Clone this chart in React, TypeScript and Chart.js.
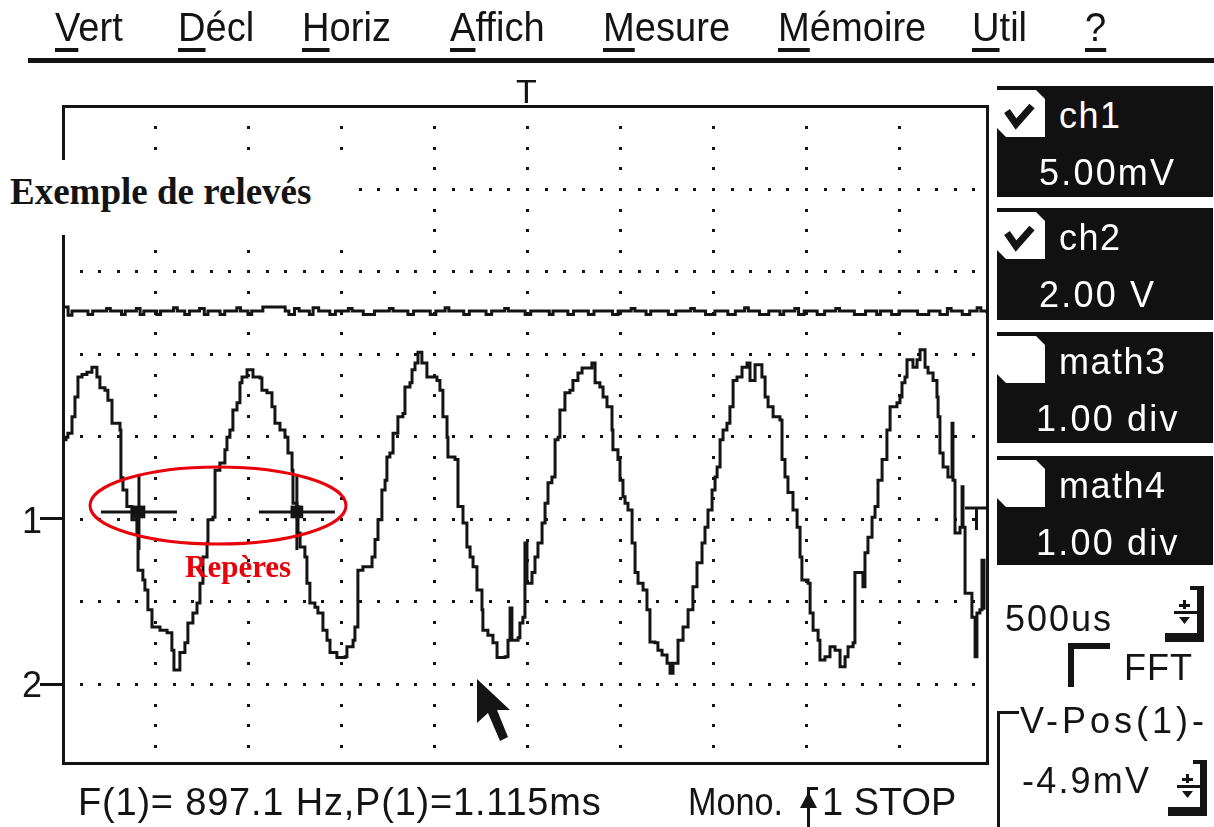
import React, { useEffect, useRef } from "react";
import { Chart, registerables } from "chart.js";

Chart.register(...registerables);

// ---------------- data ----------------
// time axis in ms (500 us / div, trigger "T" at 0), vertical axis in divisions
const timeTicksMs = [-2, -1.5, -1, -0.5, 0, 0.5, 1, 1.5, 2];
const divTicks = [-3, -2, -1, 0, 1, 2, 3];

const traceTimeMs = [
  -2.489, -2.478, -2.468, -2.446, -2.43, -2.414, -2.392, -2.366, -2.339, -2.312,
  -2.296, -2.269, -2.253, -2.231, -2.204, -2.188, -2.183, -2.172, -2.151, -2.124,
  -2.097, -2.091, -2.065, -2.054, -2.038, -2.016, -1.973, -1.935, -1.909, -1.898,
  -1.866, -1.839, -1.823, -1.796, -1.774, -1.758, -1.742, -1.72, -1.715, -1.688,
  -1.677, -1.651, -1.624, -1.613, -1.597, -1.581, -1.559, -1.543, -1.532, -1.505,
  -1.473, -1.435, -1.425, -1.398, -1.371, -1.355, -1.328, -1.301, -1.285, -1.263,
  -1.258, -1.237, -1.231, -1.22, -1.194, -1.183, -1.167, -1.14, -1.124, -1.097,
  -1.075, -1.059, -1.022, -0.978, -0.968, -0.935, -0.925, -0.909, -0.882, -0.833,
  -0.817, -0.801, -0.78, -0.763, -0.753, -0.737, -0.72, -0.694, -0.667, -0.656,
  -0.629, -0.618, -0.602, -0.586, -0.565, -0.538, -0.484, -0.468, -0.452, -0.43,
  -0.425, -0.387, -0.371, -0.344, -0.323, -0.306, -0.29, -0.269, -0.242, -0.237,
  -0.21, -0.183, -0.161, -0.118, -0.102, -0.091, -0.081, -0.048, -0.038, -0.022,
  -0.011, 0.0, 0.027, 0.043, 0.059, 0.081, 0.097, 0.113, 0.134, 0.151,
  0.167, 0.177, 0.204, 0.231, 0.247, 0.274, 0.296, 0.328, 0.349, 0.366,
  0.392, 0.409, 0.43, 0.457, 0.462, 0.489, 0.5, 0.516, 0.527, 0.543,
  0.565, 0.581, 0.597, 0.624, 0.645, 0.661, 0.688, 0.704, 0.726, 0.753,
  0.769, 0.785, 0.812, 0.839, 0.866, 0.892, 0.914, 0.941, 0.957, 0.973,
  0.995, 1.011, 1.022, 1.038, 1.054, 1.075, 1.091, 1.108, 1.129, 1.156,
  1.183, 1.199, 1.226, 1.263, 1.28, 1.296, 1.323, 1.36, 1.371, 1.387,
  1.403, 1.43, 1.452, 1.468, 1.478, 1.511, 1.522, 1.538, 1.565, 1.575,
  1.602, 1.629, 1.656, 1.683, 1.71, 1.726, 1.753, 1.763, 1.79, 1.806,
  1.817, 1.833, 1.855, 1.871, 1.887, 1.909, 1.935, 1.952, 1.989, 2.005,
  2.016, 2.032, 2.043, 2.075, 2.097, 2.113, 2.14, 2.156, 2.183, 2.204,
  2.21, 2.22, 2.237, 2.263, 2.285, 2.29, 2.301, 2.328, 2.339, 2.344,
  2.355, 2.392, 2.409, 2.419, 2.435, 2.446, 2.457,
];
const traceDiv = [
  -0.04, -0.01, 0.04, 0.24, 0.48, 0.72, 0.75, 0.78, 0.84, 0.72,
  0.59, 0.56, 0.44, 0.16, 0.16, 0.08, -0.5, -0.65, -0.85, -1.01,
  -1.17, -1.62, -1.74, -1.86, -2.1, -2.31, -2.35, -2.38, -2.59, -2.83,
  -2.62, -2.5, -2.26, -2.14, -2.02, -1.78, -1.46, -1.29, -1.01, -0.98,
  -0.41, -0.32, -0.16, -0.01, 0.08, 0.32, 0.41, 0.65, 0.72, 0.81,
  0.72, 0.71, 0.56, 0.53, 0.36, 0.16, 0.08, -0.01, -0.2, -0.41,
  -0.81, -0.85, -1.17, -1.34, -1.46, -1.78, -2.02, -2.07, -2.14, -2.35,
  -2.47, -2.62, -2.68, -2.67, -2.55, -2.47, -2.31, -1.62, -1.58, -1.46,
  -1.25, -1.01, -0.65, -0.53, -0.25, -0.2, 0.04, 0.24, 0.28, 0.6,
  0.65, 0.81, 0.89, 1.02, 0.89, 0.72, 0.68, 0.56, 0.24, -0.01,
  -0.25, -0.28, -0.85, -1.05, -1.34, -1.46, -1.58, -1.86, -2.1, -2.35,
  -2.41, -2.5, -2.68, -2.67, -2.47, -2.08, -2.47, -2.44, -2.26, -2.19,
  -1.29, -1.78, -1.65, -1.46, -1.29, -1.05, -0.81, -0.56, -0.49, -0.04,
  -0.01, 0.32, 0.53, 0.56, 0.68, 0.77, 0.83, 0.83, 0.89, 0.65,
  0.6, 0.48, 0.36, 0.08, -0.16, -0.28, -0.53, -0.73, -0.81, -0.89,
  -1.29, -1.65, -1.78, -1.86, -2.1, -2.49, -2.5, -2.59, -2.65, -2.75,
  -2.87, -2.75, -2.47, -2.31, -2.1, -1.82, -1.53, -1.29, -1.1, -0.89,
  -0.65, -0.49, -0.37, -0.04, 0.08, 0.16, 0.36, 0.68, 0.72, 0.84,
  0.89, 0.68, 0.87, 0.72, 0.48, 0.36, 0.24, 0.2, -0.28, -0.49,
  -0.68, -0.89, -1.1, -1.46, -1.74, -1.78, -2.14, -2.35, -2.47, -2.71,
  -2.67, -2.55, -2.59, -2.79, -2.67, -2.55, -2.5, -1.65, -1.65, -1.82,
  -1.41, -1.22, -0.98, -0.85, -0.53, -0.28, 0.08, 0.36, 0.41, 0.48,
  0.65, 0.72, 0.93, 0.84, 0.93, 1.05, 0.84, 0.77, 0.68, 0.48,
  0.24, -0.2, -0.37, -0.49, 0.16, -0.53, -1.17, -1.1, -0.61, -1.1,
  -1.9, -2.19, -2.67, -2.14, -2.1, -1.5, -2.1,
];

const refTimeMs = [
  -2.489, -2.467, -2.446, -2.36, -2.335, -2.26, -2.24, -2.18, -2.16, -2.1,
  -2.08, -2.06, -1.99, -1.97, -1.9, -1.88, -1.84, -1.815, -1.76, -1.735,
  -1.715, -1.65, -1.625, -1.56, -1.54, -1.5, -1.48, -1.42, -1.3, -1.28,
  -1.25, -1.225, -1.17, -1.15, -1.12, -1.06, -1.03, -0.96, -0.94, -0.88,
  -0.82, -0.74, -0.72, -0.64, -0.61, -0.52, -0.49, -0.44, -0.42, -0.34,
  -0.31, -0.22, -0.19, -0.12, -0.1, -0.01, 0.02, 0.12, 0.14, 0.22,
  0.25, 0.33, 0.36, 0.46, 0.49, 0.56, 0.58, 0.64, 0.665, 0.76,
  0.8, 0.88, 0.9, 0.96, 1.01, 1.08, 1.12, 1.17, 1.19, 1.25,
  1.3, 1.36, 1.38, 1.44, 1.46, 1.49, 1.56, 1.6, 1.66, 1.68,
  1.76, 1.82, 1.88, 1.9, 1.96, 2.0, 2.1, 2.16, 2.22, 2.26,
  2.28, 2.34, 2.38, 2.42, 2.44, 2.473,
];
const refDiv = [
  1.57, 1.47, 1.52, 1.48, 1.52, 1.55, 1.52, 1.48, 1.52, 1.55,
  1.48, 1.52, 1.48, 1.52, 1.56, 1.52, 1.48, 1.52, 1.55, 1.48,
  1.52, 1.48, 1.52, 1.56, 1.52, 1.48, 1.52, 1.57, 1.52, 1.48,
  1.55, 1.52, 1.48, 1.56, 1.52, 1.48, 1.52, 1.55, 1.52, 1.48,
  1.52, 1.55, 1.52, 1.48, 1.52, 1.48, 1.52, 1.56, 1.52, 1.48,
  1.52, 1.48, 1.52, 1.55, 1.52, 1.48, 1.52, 1.48, 1.52, 1.48,
  1.52, 1.48, 1.52, 1.48, 1.52, 1.55, 1.52, 1.48, 1.52, 1.48,
  1.52, 1.55, 1.52, 1.48, 1.52, 1.48, 1.52, 1.56, 1.52, 1.48,
  1.52, 1.48, 1.52, 1.55, 1.48, 1.52, 1.48, 1.52, 1.55, 1.52,
  1.48, 1.52, 1.48, 1.52, 1.48, 1.52, 1.48, 1.52, 1.48, 1.55,
  1.52, 1.48, 1.52, 1.56, 1.52, 1.49,
];

// trigger-level indicator at the right edge of the screen
const trigLevelTimeMs = [2.355, 2.473];
const trigLevelDiv = [-0.867, -0.867];

// "Repères" cursor crosses
const markerTimeMs = [-2.086, -1.237];
const markerDiv = [-0.915, -0.915];
// red ellipse around the two markers
const ellipseCenterMs = -1.661;
const ellipseCenterDiv = -0.836;
const ellipseHalfWidthMs = 0.688;
const ellipseHalfHeightDiv = 0.467;

const menuLabels = ["Vert", "Décl", "Horiz", "Affich", "Mesure", "Mémoire", "Util", "?"];
const channelNames = ["ch1", "ch2", "math3", "math4"];
const channelScales = ["5.00mV", "2.00 V", "1.00 div", "1.00 div"];
const channelChecked = [true, true, false, false];
const timebaseLabel = "500us";
const fftLabel = "FFT";
const vposTitle = "V-Pos(1)-";
const vposValue = "-4.9mV";
const measureLabel = "F(1)= 897.1 Hz,P(1)=1.115ms";
const modeLabel = "Mono.";
const stateLabel = "1 STOP";
const titleLabel = "Exemple de relevés";
const markerLabel = "Repères";
const groundLabels = ["1", "2"];

// ---------------- styling ----------------
const INK = "#141414";
const RED = "#e8000a";
const SANS = '"Liberation Sans", Arial, Helvetica, sans-serif';
const SERIF = '"Liberation Serif", "Times New Roman", Times, serif';

const gridDots = {
  id: "gridDots",
  beforeDatasetsDraw(chart: any) {
    const { ctx, scales } = chart;
    const x = scales.x;
    const y = scales.y;
    ctx.save();
    ctx.fillStyle = INK;
    for (const v of divTicks) {
      const py = Math.round(y.getPixelForValue(v));
      for (let k = Math.ceil((x.min + 0.05) * 10); k <= Math.floor((x.max - 0.05) * 10); k++) {
        const px = Math.round(x.getPixelForValue(k / 10));
        ctx.fillRect(px - 1, py - 1, 3, 3);
      }
    }
    for (const t of timeTicksMs) {
      const px = Math.round(x.getPixelForValue(t));
      for (let k = Math.ceil((y.min + 0.1) * 4); k <= Math.floor((y.max - 0.1) * 4); k++) {
        if (k % 4 === 0) continue;
        const py = Math.round(y.getPixelForValue(k / 4));
        ctx.fillRect(px - 1, py - 1, 3, 3);
      }
    }
    ctx.restore();
  },
};

const frameAndEllipse = {
  id: "frameAndEllipse",
  afterDatasetsDraw(chart: any) {
    const { ctx, chartArea: a, scales } = chart;
    const x = scales.x;
    const y = scales.y;
    ctx.save();
    ctx.strokeStyle = INK;
    ctx.lineWidth = 3;
    ctx.strokeRect(a.left - 0.5, a.top - 0.5, a.right - a.left + 1, a.bottom - a.top + 1);
    const cx = x.getPixelForValue(ellipseCenterMs);
    const cy = y.getPixelForValue(ellipseCenterDiv);
    const rx = Math.abs(x.getPixelForValue(ellipseCenterMs + ellipseHalfWidthMs) - cx);
    const ry = Math.abs(y.getPixelForValue(ellipseCenterDiv + ellipseHalfHeightDiv) - cy);
    ctx.beginPath();
    ctx.ellipse(cx, cy, rx, ry, 0, 0, Math.PI * 2);
    ctx.strokeStyle = RED;
    ctx.lineWidth = 3;
    ctx.stroke();
    ctx.restore();
  },
};

function Label(props: {
  x: number;
  base: number;
  size: number;
  text?: string;
  children?: any;
  color?: string;
  family?: string;
  ls?: number;
  sx?: number;
  weight?: number;
}) {
  const family = props.family || SANS;
  const k = family === SERIF ? 0.8375 : 0.8465;
  const top = props.base - k * props.size;
  return (
    <div
      style={{
        position: "absolute",
        left: props.x,
        top,
        fontSize: props.size,
        lineHeight: `${props.size}px`,
        fontFamily: family,
        fontWeight: props.weight || 400,
        color: props.color || INK,
        letterSpacing: props.ls || 0,
        whiteSpace: "nowrap",
        transform: props.sx && props.sx !== 1 ? `scaleX(${props.sx})` : undefined,
        transformOrigin: "left top",
      }}
    >
      {props.children ?? props.text}
    </div>
  );
}

function Spinner({ x, y }: { x: number; y: number }) {
  return (
    <svg style={{ position: "absolute", left: x, top: y }} width={40} height={56}>
      <rect x={32} y={0} width={7} height={56} fill={INK} />
      <rect x={0} y={47} width={39} height={9} fill={INK} />
      <rect x={25} y={0} width={8} height={4} fill={INK} />
      <rect x={9} y={25} width={23} height={3} fill={INK} />
      <rect x={18} y={14} width={3} height={9} fill={INK} />
      <rect x={14} y={18} width={11} height={3} fill={INK} />
      <polygon points="14,31 25,31 19.5,38" fill={INK} />
    </svg>
  );
}

function CheckBox({ x, y, checked }: { x: number; y: number; checked: boolean }) {
  return (
    <div style={{ position: "absolute", left: x, top: y, width: 48, height: 47 }}>
      <div
        style={{
          position: "absolute",
          inset: 0,
          background: "#fff",
          clipPath: "polygon(0 0, 39px 0, 48px 9px, 48px 47px, 9px 47px, 0 38px)",
        }}
      />
      {checked && (
        <svg style={{ position: "absolute", left: 0, top: 0 }} width={48} height={47}>
          <polyline points="10,21 19,34 35,16" fill="none" stroke={INK} strokeWidth={7} />
        </svg>
      )}
    </div>
  );
}

export default function App() {
  const ref = useRef<HTMLCanvasElement>(null);

  useEffect(() => {
    const canvas = ref.current;
    if (!canvas) return;
    const chart = new Chart(canvas, {
      type: "line",
      data: {
        datasets: [
          {
            label: "trace",
            data: traceTimeMs.map((t, i) => ({ x: t, y: traceDiv[i] })),
            borderColor: INK,
            borderWidth: 3,
            pointRadius: 0,
            stepped: true,
            fill: false,
          },
          {
            label: "reference",
            data: refTimeMs.map((t, i) => ({ x: t, y: refDiv[i] })),
            borderColor: INK,
            borderWidth: 3,
            pointRadius: 0,
            stepped: true,
            fill: false,
          },
          {
            label: "trigLevel",
            data: trigLevelTimeMs.map((t, i) => ({ x: t, y: trigLevelDiv[i] })),
            borderColor: INK,
            borderWidth: 3,
            pointRadius: 0,
            fill: false,
          },
          {
            label: "markers",
            data: markerTimeMs.map((t, i) => ({ x: t, y: markerDiv[i] })),
            showLine: false,
            pointStyle: "cross",
            pointRadius: 38,
            pointBorderWidth: 3,
            pointBorderColor: INK,
            pointBackgroundColor: INK,
          },
          {
            label: "markerBlocks",
            data: markerTimeMs.map((t, i) => ({ x: t, y: markerDiv[i] })),
            showLine: false,
            pointStyle: "rect",
            pointRadius: 9,
            pointBorderWidth: 0,
            pointBackgroundColor: INK,
          },
        ] as any,
      },
      options: {
        responsive: false,
        animation: false,
        devicePixelRatio: 1,
        events: [],
        layout: { padding: { left: 64, top: 107, right: 227, bottom: 64 } },
        plugins: { legend: { display: false }, tooltip: { enabled: false } },
        scales: {
          x: { type: "linear", min: -2.489, max: 2.473, display: false },
          y: { type: "linear", min: -3.958, max: 3.994, display: false },
        },
      } as any,
      plugins: [gridDots, frameAndEllipse],
    });
    return () => chart.destroy();
  }, []);

  const menuX = [55, 178, 302, 450, 603, 778, 972, 1085];
  const boxTops = [86, 208, 332, 456];
  const boxHeights = [111, 112, 111, 109];

  return (
    <div
      style={{
        position: "absolute",
        left: 0,
        top: 0,
        width: 1214,
        height: 827,
        background: "#fff",
        overflow: "hidden",
      }}
    >
      <canvas
        ref={ref}
        width={1214}
        height={827}
        style={{ position: "absolute", left: 0, top: 0, width: 1214, height: 827 }}
      />

      {/* menu bar */}
      {menuLabels.map((m, i) => (
        <Label key={m} x={menuX[i]} base={42} size={41} sx={0.93}>
          <span
            style={{
              textDecoration: "underline",
              textDecorationThickness: "4px",
              textUnderlineOffset: "7px",
            }}
          >
            {m[0]}
          </span>
          {m.slice(1)}
        </Label>
      ))}
      <div style={{ position: "absolute", left: 28, top: 58, width: 1186, height: 5, background: INK }} />

      {/* trigger marker */}
      <Label x={516} base={103} size={34} text="T" />

      {/* ground markers */}
      <Label x={22} base={533} size={36} text={groundLabels[0]} />
      <div style={{ position: "absolute", left: 40, top: 517, width: 24, height: 3, background: INK }} />
      <Label x={22} base={697} size={36} text={groundLabels[1]} />
      <div style={{ position: "absolute", left: 40, top: 683, width: 24, height: 3, background: INK }} />

      {/* title box */}
      <div style={{ position: "absolute", left: 0, top: 160, width: 345, height: 75, background: "#fff" }} />
      <Label x={10} base={204} size={37} family={SERIF} weight={700} text={titleLabel} />

      {/* Repères label */}
      <Label x={185} base={577} size={31} family={SERIF} weight={700} color={RED} text={markerLabel} />

      {/* mouse cursor */}
      <svg style={{ position: "absolute", left: 476, top: 679 }} width={36} height={64}>
        <polygon points="1,0 1,44 12,34 24,62 32,58 21,31 34,31" fill={INK} />
      </svg>

      {/* trigger level tick at the right edge */}
      <div style={{ position: "absolute", left: 975, top: 508, width: 3, height: 22, background: INK }} />

      {/* right panel channel boxes */}
      {channelNames.map((n, i) => (
        <div key={n}>
          <div
            style={{
              position: "absolute",
              left: 997,
              top: boxTops[i],
              width: 216,
              height: boxHeights[i],
              background: "#111",
            }}
          />
          <CheckBox x={997} y={boxTops[i] + 4} checked={channelChecked[i]} />
          <Label x={1059} base={boxTops[i] + 42} size={36} ls={1.5} color="#fff" text={n} />
          <Label x={i >= 2 ? 1036 : 1039} base={boxTops[i] + 99} size={36} ls={2.2} color="#fff" text={channelScales[i]} />
        </div>
      ))}

      {/* timebase */}
      <Label x={1005} base={631} size={36} ls={2} text={timebaseLabel} />
      <Spinner x={1165} y={586} />

      {/* FFT */}
      <div style={{ position: "absolute", left: 1068, top: 643, width: 42, height: 6, background: INK }} />
      <div style={{ position: "absolute", left: 1068, top: 643, width: 6, height: 44, background: INK }} />
      <Label x={1124} base={680} size={36} ls={1} text={fftLabel} />

      {/* V-Pos */}
      <div style={{ position: "absolute", left: 997, top: 711, width: 22, height: 3, background: INK }} />
      <div style={{ position: "absolute", left: 997, top: 711, width: 3, height: 116, background: INK }} />
      <Label x={1020} base={733} size={36} ls={4} text={vposTitle} />
      <Label x={1022} base={793} size={36} ls={2.2} text={vposValue} />
      <Spinner x={1168} y={760} />

      {/* bottom status line */}
      <Label x={78} base={815} size={38} ls={0.8} text={measureLabel} />
      <Label x={688} base={815} size={38} sx={0.9} text={modeLabel} />
      <svg style={{ position: "absolute", left: 796, top: 786 }} width={26} height={41}>
        <rect x={11} y={3} width={3} height={38} fill={INK} />
        <rect x={11} y={1} width={11} height={3} fill={INK} />
        <polygon points="12.5,6 4,22 21,22" fill={INK} />
      </svg>
      <Label x={822} base={815} size={38} text={stateLabel} />
    </div>
  );
}
